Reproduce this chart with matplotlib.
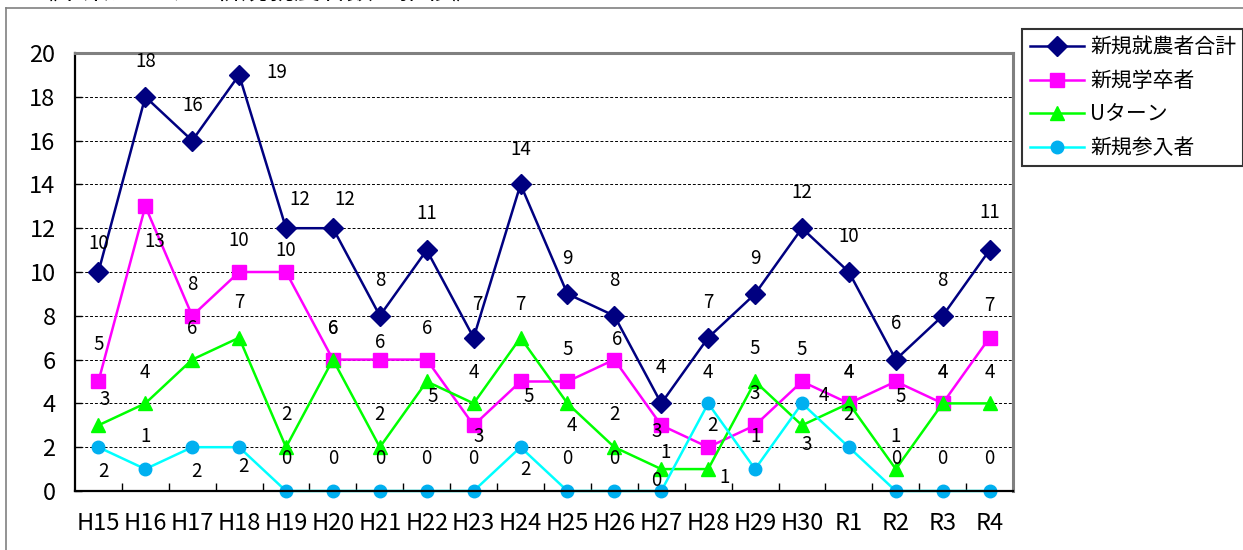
import matplotlib
matplotlib.use("Agg")
import matplotlib.pyplot as plt
from matplotlib.lines import Line2D

plt.rcParams["font.family"] = ["Noto Sans CJK JP", "DejaVu Sans"]

# --- data -------------------------------------------------------------
years = ["H15", "H16", "H17", "H18", "H19", "H20", "H21", "H22", "H23", "H24",
         "H25", "H26", "H27", "H28", "H29", "H30", "R1", "R2", "R3", "R4"]
total = [10, 18, 16, 19, 12, 12, 8, 11, 7, 14, 9, 8, 4, 7, 9, 12, 10, 6, 8, 11]
graduates = [5, 13, 8, 10, 10, 6, 6, 6, 3, 5, 5, 6, 3, 2, 3, 5, 4, 5, 4, 7]
u_turn = [3, 4, 6, 7, 2, 6, 2, 5, 4, 7, 4, 2, 1, 1, 5, 3, 4, 1, 4, 4]
newcomers = [2, 1, 2, 2, 0, 0, 0, 0, 0, 2, 0, 0, 0, 4, 1, 4, 2, 0, 0, 0]
series_names = ["新規就農者合計", "新規学卒者", "Uターン", "新規参入者"]
title_text = "《本県における新規就農者数の推移》"

# --- label offsets (category units, value units) -----------------------
off_total = [(0, 1.3), (0, 1.6), (0, 1.6), (0.8, 0.1), (0.3, 1.3), (0.25, 1.3),
             (0, 1.6), (0, 1.65), (0.07, 1.5), (0, 1.6), (0, 1.6), (0, 1.6),
             (0, 1.65), (0, 1.6), (0, 1.6), (0, 1.65), (0, 1.6), (0, 1.65),
             (0, 1.6), (0, 1.7)]
off_grad = [(0, 1.67), (0.2, -1.6), (0, 1.45), (0, 1.46), (0, 0.96), (0, 1.43),
            (0, 0.8), (0, 1.43), (0.1, -0.53), (0.18, -0.7), (0, 1.48), (0.05, 0.9),
            (-0.1, -0.3), (0.1, 1.0), (0, 1.47), (0, 1.48), (0, 1.43), (0.1, -0.7),
            (0, 1.43), (0, 1.45)]
off_u = [(0.14, 1.2), (0, 1.4), (0, 1.43), (0, 1.6), (0, 1.47), (0, 1.43),
         (0, 1.47), (0.12, -0.7), (0, 1.43), (0, 1.5), (0.1, -1.0), (0, 1.47),
         (0.1, 0.78), (0.35, -0.4), (0, 1.5), (0.1, -0.9), (0, 1.43), (0, 1.47),
         (0, 1.43), (0, 1.43)]
off_new = [(0.1, -1.1), (0, 1.47), (0.1, -1.1), (0.1, -0.9), (0, 1.5), (0, 1.5),
           (0, 1.5), (0, 1.5), (0, 1.5), (0.1, -1.04), (0, 1.5), (0, 1.5),
           (-0.1, 0.5), (0, 1.43), (0, 1.47), (0.47, 0.38), (0, 1.47), (0, 1.5),
           (0, 1.5), (0, 1.5)]

styles = [
    dict(color="#000080", marker="D", ms=10, mfc="#000080", mec="#000080"),
    dict(color="#FF00FF", marker="s", ms=9.5, mfc="#FF00FF", mec="#FF00FF"),
    dict(color="#00FF00", marker="^", ms=10, mfc="#00FF00", mec="#00FF00"),
    dict(color="#00FFFF", marker="o", ms=9, mfc="#00B0F0", mec="#00B0F0"),
]

fig = plt.figure(figsize=(12.43, 5.5), dpi=100)
ax = fig.add_axes([0.0603, 0.1073, 0.7547, 0.7963])

x = list(range(len(years)))
values = [total, graduates, u_turn, newcomers]
offsets = [off_total, off_grad, off_u, off_new]
handles = []
for name, vals, offs, st in zip(series_names, values, offsets, styles):
    line, = ax.plot(x, vals, lw=1.8, label=name, clip_on=False, **st)
    handles.append(line)
    for xi, v, (dx, dy) in zip(x, vals, offs):
        ax.text(xi + dx, v + dy, str(v), ha="center", va="center",
                fontsize=13.5, color="black")

ax.set_xlim(-0.5, len(years) - 0.5)
ax.set_ylim(0, 20)
ax.set_yticks(range(0, 21, 2))
ax.set_xticks(x, years)
ax.set_xticks([i + 0.5 for i in x[:-1]], minor=True)
ax.tick_params(axis="x", which="major", length=0, pad=15, labelsize=17)
ax.tick_params(axis="x", which="minor", direction="in", length=6, width=1,
               color="black")
ax.tick_params(axis="y", direction="in", length=5, width=1, pad=14,
               labelsize=17)
ax.grid(axis="y", color="black", linestyle=(0, (3, 2)), lw=0.7)

for side in ("left", "bottom"):
    ax.spines[side].set_color("black")
    ax.spines[side].set_linewidth(1.6)
for side in ("top", "right"):
    ax.spines[side].set_color("#808080")
    ax.spines[side].set_linewidth(2.2)

leg = fig.legend(handles=handles, loc="upper left",
                 bbox_to_anchor=(0.8225, 0.947), fontsize=15,
                 frameon=True, fancybox=False, edgecolor="black",
                 handlelength=2.6, handletextpad=0.3, labelspacing=0.55,
                 borderpad=0.35, borderaxespad=0)
leg.get_frame().set_linewidth(1.5)

# outer chart frame (top and left edges visible)
fig.add_artist(Line2D([6 / 1243, 1.0], [1 - 8 / 550, 1 - 8 / 550],
                      color="#808080", lw=1.2))
fig.add_artist(Line2D([6 / 1243, 6 / 1243], [0, 1 - 8 / 550],
                      color="#808080", lw=1.2))

# title, mostly outside the cropped image
fig.text(30 / 1243, 1 + 1 / 550, title_text, fontsize=19, ha="left",
         va="baseline")

fig.savefig("out.png", dpi=100)
